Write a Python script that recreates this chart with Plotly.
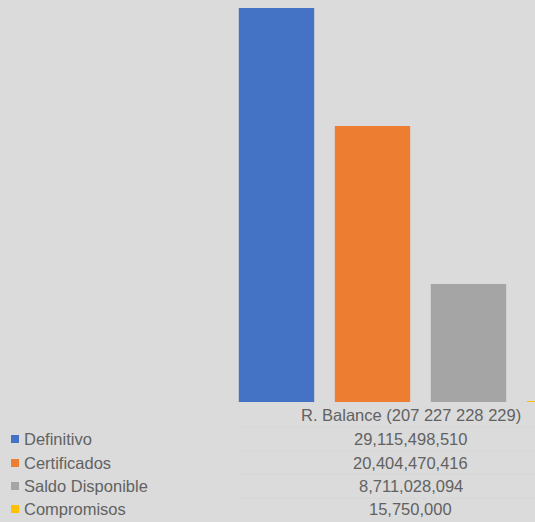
import plotly.graph_objects as go

# ---- data ----
category = "R. Balance (207 227 228 229)"
series_names = ["Definitivo", "Certificados", "Saldo Disponible", "Compromisos"]
series_values = [29115498510, 20404470416, 8711028094, 15750000]
series_colors = ["#4472C4", "#ED7D31", "#A5A5A5", "#FFC000"]

W, H = 535, 522
PLOT_BOTTOM = 402  # px from top where bar baseline sits
TEXT_COLOR = "#626262"
FONT = "Liberation Sans"
FS = 16.5

fig = go.Figure()
for name, val, col in zip(series_names, series_values, series_colors):
    fig.add_trace(go.Bar(x=[category], y=[val], name=name, marker_color=col,
                         marker_line_width=0, showlegend=False))

# pixel helpers (layout only)
def px_x(p):
    return p / W

def px_y(p):
    return (PLOT_BOTTOM - p) / PLOT_BOTTOM

group_px = 384.0
center_px = 420.5
ymax = max(series_values) * PLOT_BOTTOM / 394.0

annotations = []
shapes = []
annotations.append(dict(x=px_x(410.5), y=px_y(415), xref="paper", yref="paper",
                        text=category, showarrow=False, xanchor="center", yanchor="middle",
                        font=dict(family=FONT, size=FS, color=TEXT_COLOR)))
row_y = [439, 463, 486, 509]
for i, (name, val, col) in enumerate(zip(series_names, series_values, series_colors)):
    ry = row_y[i]
    annotations.append(dict(x=px_x(22), y=px_y(ry), xref="paper", yref="paper",
                            text=name, showarrow=False, xanchor="left", yanchor="middle",
                            font=dict(family=FONT, size=FS, color=TEXT_COLOR)))
    annotations.append(dict(x=px_x(410.5), y=px_y(ry), xref="paper", yref="paper",
                            text=f"{val:,}", showarrow=False, xanchor="center", yanchor="middle",
                            font=dict(family=FONT, size=FS, color=TEXT_COLOR)))
    shapes.append(dict(type="rect", xref="paper", yref="paper",
                       x0=px_x(11), x1=px_x(19), y0=px_y(ry - 4), y1=px_y(ry + 4),
                       fillcolor=col, line_width=0))
for ly in [427, 451, 474, 498]:
    shapes.append(dict(type="line", xref="paper", yref="paper",
                       x0=px_x(240), x1=1, y0=px_y(ly), y1=px_y(ly),
                       line=dict(color="#d6d6d6", width=1)))

fig.update_layout(
    width=W, height=H,
    margin=dict(l=0, r=0, t=0, b=H - PLOT_BOTTOM, pad=0),
    paper_bgcolor="#dbdbdb", plot_bgcolor="#dbdbdb",
    barmode="group", bargap=0.0, bargroupgap=0.215,
    xaxis=dict(range=[-center_px / group_px, (W - center_px) / group_px],
               showticklabels=False, showgrid=False, zeroline=False, showline=False,
               fixedrange=True),
    yaxis=dict(range=[0, ymax], showticklabels=False, showgrid=False, zeroline=False,
               showline=False, fixedrange=True),
    annotations=annotations, shapes=shapes,
    showlegend=False,
)

fig.write_html("out.html", config={"displayModeBar": False},
               post_script="document.body.style.margin='0';document.body.style.overflow='hidden';")
